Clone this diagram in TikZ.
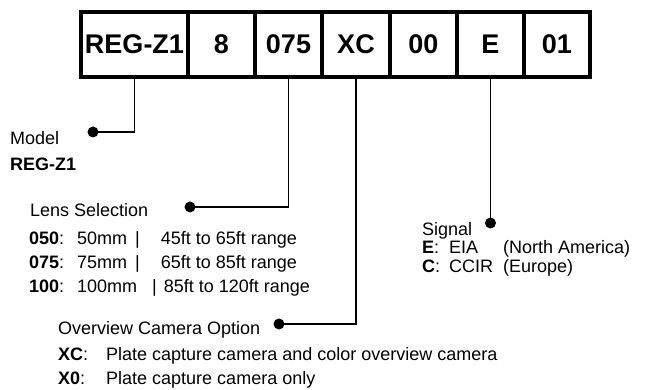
\documentclass[tikz,border=0pt]{standalone}
\usepackage{fontspec}
\setmainfont{Liberation Sans}
\begin{document}
\begin{tikzpicture}[x=1pt,y=-1pt,
  cell/.style={draw,line width=4pt,minimum height=65pt,inner sep=0pt,
    font=\fontsize{27}{32}\selectfont\bfseries},
  dot/.style={circle,fill,inner sep=0pt,minimum size=11pt},
  conn/.style={line width=1.8pt},
  txt/.style={anchor=base west,inner sep=0pt,font=\fontsize{18}{22}\selectfont}]
\useasboundingbox (0,0) rectangle (649,390);
% code boxes
\node[cell,minimum width=107pt] (reg) at (134.5,44.5) {REG-Z1};
\node[cell,minimum width=67pt] (c8) at (221.5,44.5) {8};
\node[cell,minimum width=67pt] (c075) at (288.5,44.5) {075};
\node[cell,minimum width=68pt] (cxc) at (356,44.5) {XC};
\node[cell,minimum width=67pt] (c00) at (423.5,44.5) {00};
\node[cell,minimum width=67pt] (ce) at (490.5,44.5) {E};
\node[cell,minimum width=66pt] (c01) at (557,44.5) {01};
% dots
\node[dot] (dmodel) at (93,132) {};
\node[dot] (dlens) at (190,207) {};
\node[dot] (dxc) at (279,324) {};
\node[dot] (dsig) at (490.5,223) {};
% connectors
\draw[conn] (dmodel.center) -| (reg.south);
\draw[conn] (dlens.center) -| (c075.south);
\draw[conn] (dxc.center) -| (cxc.south);
\draw[conn] (dsig.center) -- (ce.south);
% model
\node[txt] (tmodel) at (10,145) {Model};
\node[txt] (tmodelv) at (10,171) {\bfseries REG-Z1};
% lens
\node[txt] (tlens) at (30,217) {Lens Selection};
\node[txt] (l1) at (29,245) {\makebox[48pt][l]{\bfseries 050\mdseries:}\makebox[58pt][l]{50mm}|\hspace{21pt}45ft to 65ft range};
\node[txt] (l2) at (29,269) {\makebox[48pt][l]{\bfseries 075\mdseries:}\makebox[58pt][l]{75mm}|\hspace{21pt}65ft to 85ft range};
\node[txt] (l3) at (29,293) {\makebox[48pt][l]{\bfseries 100\mdseries:}\makebox[75pt][l]{100mm}|\hspace{7pt}85ft to 120ft range};
% overview
\node[txt] (tover) at (58,335) {Overview Camera Option};
\node[txt] (o1) at (58,361) {\makebox[48pt][l]{\bfseries XC\mdseries:}Plate capture camera and color overview camera};
\node[txt] (o2) at (58,385) {\makebox[48pt][l]{\bfseries X0\mdseries:}Plate capture camera only};
% signal
\node[txt] (tsig) at (422,236) {Signal};
\node[txt] (s1) at (422,254) {\makebox[27pt][l]{\bfseries E\mdseries:}\makebox[54pt][l]{EIA}(North America)};
\node[txt] (s2) at (422,273) {\makebox[27pt][l]{\bfseries C\mdseries:}\makebox[54pt][l]{CCIR}(Europe)};
\end{tikzpicture}
\end{document}
